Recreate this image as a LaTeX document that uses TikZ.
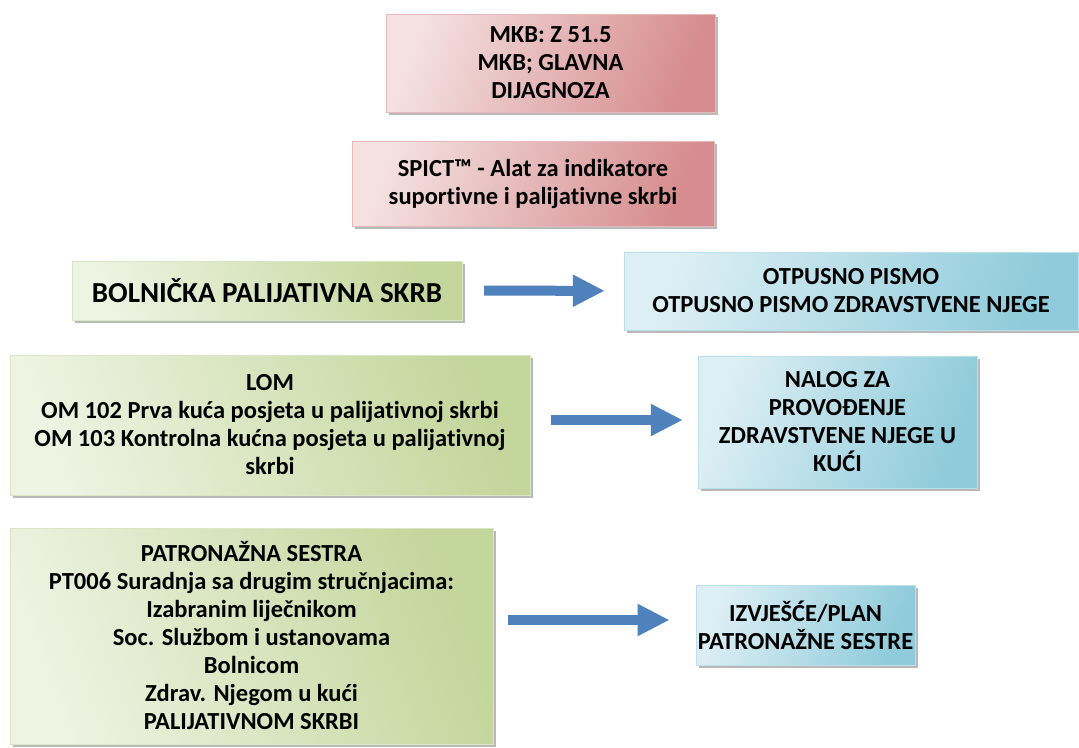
\documentclass[tikz,border=0pt]{standalone}
\usepackage{fontspec}
\setmainfont{Carlito}[Ligatures=NoCommon]
\usepackage{xcolor}
\usepackage{tikz}
\usetikzlibrary{positioning}
\usetikzlibrary{arrows.meta}
\usetikzlibrary{shadows}

\definecolor{redL}{HTML}{F4E1E0}
\definecolor{redD}{HTML}{D68C8E}
\definecolor{greenL}{HTML}{EEF3E2}
\definecolor{greenD}{HTML}{C3D69B}
\definecolor{blueL}{HTML}{DDEFF4}
\definecolor{blueD}{HTML}{8FCBDB}
\definecolor{arrowblue}{HTML}{4F81BD}

\begin{document}
\begin{tikzpicture}[x=1pt,y=1pt,
    box/.style={rectangle,inner sep=2pt,align=center,
      font=\bfseries\fontsize{24.5}{28}\selectfont,
      drop shadow={shadow xshift=3pt,shadow yshift=-3pt,fill=black!50,opacity=0.55}},
    redbox/.style={box,draw=redD!60!white,left color=redL,right color=redD,shading angle=70},
    greenbox/.style={box,draw=greenD!60!white,left color=greenL,right color=greenD,shading angle=110},
    bluebox/.style={box,draw=blueD!60!white,left color=blueL,right color=blueD,shading angle=70},
    bigarrow/.style={draw=arrowblue,line width=10pt,-{Triangle[length=32pt,width=30pt]}}]

    \useasboundingbox (0,0) rectangle (1079,-747);

    \node[redbox,minimum width=329pt,minimum height=98pt] (mkb) at (550.5,-63)
      {MKB: Z 51.5\\MKB; GLAVNA\\DIJAGNOZA};
    \node[redbox,minimum width=362pt,minimum height=85pt] (spict) at (533,-183.5)
      {SPICT™ - Alat za indikatore\\suportivne i palijativne skrbi};

    \node[greenbox,minimum width=390pt,minimum height=59pt,
      font=\bfseries\fontsize{29}{32}\selectfont] (bol) at (267,-290.5)
      {BOLNIČKA PALIJATIVNA SKRB};
    \node[bluebox,minimum width=454pt,minimum height=78pt] (otp) at (851,-291)
      {OTPUSNO PISMO\\OTPUSNO PISMO ZDRAVSTVENE NJEGE};

    \node[greenbox,minimum width=520pt,minimum height=140pt] (lom) at (270,-425)
      {LOM\\OM 102 Prva kuća posjeta u palijativnoj skrbi\\OM 103 Kontrolna kućna posjeta u palijativnoj\\skrbi};
    \node[bluebox,minimum width=279pt,minimum height=132pt] (nalog) at (837.5,-422)
      {NALOG ZA\\PROVOĐENJE\\ZDRAVSTVENE NJEGE U\\KUĆI};

    \node[greenbox,minimum width=483pt,minimum height=216pt] (patr) at (251.5,-636)
      {PATRONAŽNA SESTRA\\PT006 Suradnja sa drugim stručnjacima:\\Izabranim liječnikom\\Soc. Službom i ustanovama\\Bolnicom\\Zdrav. Njegom u kući\\PALIJATIVNOM SKRBI};
    \node[bluebox,minimum width=215pt,minimum height=80pt] (izvj) at (805.5,-625)
      {IZVJEŠĆE/PLAN\\PATRONAŽNE SESTRE};

    \path (bol) edge[bigarrow,shorten <=22pt,shorten >=19pt] (otp)
    ([yshift=5pt]lom.east) edge[bigarrow,shorten <=21pt,shorten >=15pt] ([yshift=5pt]lom.east -| nalog.west)
    ([yshift=5pt]izvj.west -| patr.east) edge[bigarrow,shorten <=15pt,shorten >=26pt] ([yshift=5pt]izvj.west);

\end{tikzpicture}
\end{document}
